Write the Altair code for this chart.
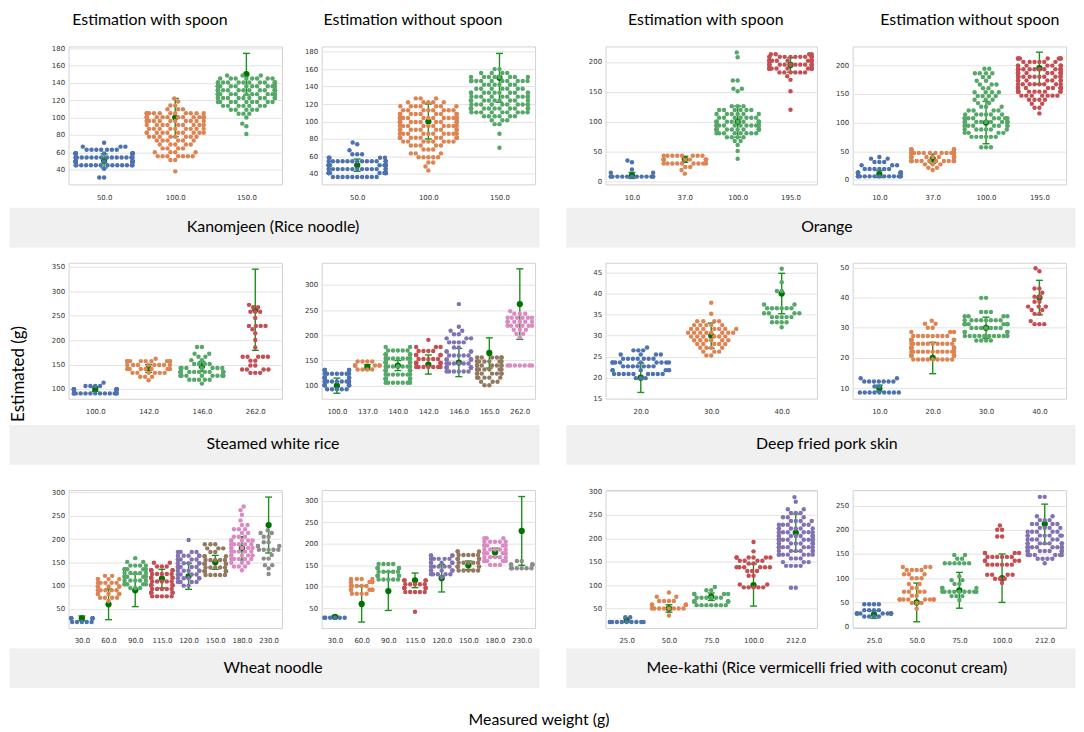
import json
import math
import altair as alt
import pandas as pd

FONT = "Lato"
PALETTE = ["#4c72b0", "#dd8452", "#55a868", "#c44e52", "#8172b3", "#937860", "#da8bc3", "#8c8c8c"]
ERR_COLOR = "#1f8f1f"
DOT_COLOR = "#007300"
DOT_D = 4.9

# ---------------- Data: (estimated value, number of dots at that value) ----------------
# Kanomjeen (Rice noodle) - with spoon
KAN_W_CATS = ["50.0", "100.0", "150.0"]
KAN_W_ROWS = [
    [(31, 2), (41, 1), (45, 14), (49.5, 15), (54, 15), (58.5, 13), (63, 7), (66.5, 3), (71, 1)],
    [(38, 1), (51, 2), (55.5, 7), (60, 4), (64.5, 4), (69, 5), (73.5, 6), (78, 8), (82.5, 10), (87, 9),
     (91.5, 9), (96, 11), (100.5, 14), (105, 12), (109.5, 3), (114, 2), (118.5, 1), (122, 1)],
    [(81, 1), (90, 1), (93, 1), (100, 1), (104.5, 3), (109, 5), (113.5, 7), (118, 9), (122.5, 12),
     (127, 14), (131.5, 15), (136, 15), (140.5, 12), (145, 8), (148.5, 3)],
]
KAN_W_ERR = [8, 22, 24]
KAN_W_Y = ([23, 182], [40, 60, 80, 100, 120, 140, 160, 180])

# Kanomjeen - without spoon
KAN_N_CATS = ["50.0", "100.0", "150.0"]
KAN_N_ROWS = [
    [(36.5, 10), (41, 14), (45.5, 14), (50, 14), (54.5, 13), (58.5, 4), (62.5, 3), (67, 1), (74, 1), (76, 1)],
    [(44, 1), (48.5, 1), (53, 2), (59, 5), (63.5, 3), (68, 3), (72.5, 5), (77, 8), (81.5, 11), (86, 10),
     (90.5, 9), (95, 10), (99.5, 14), (104, 14), (108.5, 9), (113, 8), (117.5, 7), (122, 5), (126.5, 3)],
    [(70, 1), (86, 1), (97, 2), (101.5, 3), (106, 6), (110.5, 9), (115, 13), (119.5, 10), (124, 9),
     (128.5, 10), (133, 10), (137.5, 7), (142, 6), (146.5, 10), (151, 8), (155.5, 4), (160, 2)],
]
KAN_N_ERR = [7, 20, 28]
KAN_N_Y = ([28, 186], [40, 60, 80, 100, 120, 140, 160, 180])

# Orange - with spoon
ORA_W_CATS = ["10.0", "37.0", "100.0", "195.0"]
ORA_W_ROWS = [
    [(8, 13), (14.5, 2), (20, 1), (32, 1), (35, 1)],
    [(13, 1), (19, 1), (24, 2), (30, 9), (36.5, 11), (43, 8)],
    [(38, 1), (51, 1), (61, 1), (67.5, 2), (74, 4), (80.5, 8), (87, 12), (93.5, 12), (100, 10), (106.5, 7),
     (113, 6), (119.5, 6), (126, 3), (151, 1), (155, 2), (169, 2), (208, 1), (216, 1)],
    [(120, 1), (151, 1), (170, 1), (176, 1), (182.5, 6), (189, 12), (195.5, 12), (202, 12), (208.5, 11), (213, 4)],
]
ORA_W_ERR = [5, 5, 26, 12]
ORA_W_Y = ([-5, 226], [0, 50, 100, 150, 200])

# Orange - without spoon
ORA_N_CATS = ["10.0", "37.0", "100.0", "195.0"]
ORA_N_ROWS = [
    [(6, 13), (12.5, 12), (19, 6), (25.5, 3), (31, 3), (37, 2), (40, 1)],
    [(17, 1), (21, 2), (27, 3), (33, 13), (40, 13), (47, 13), (53, 8)],
    [(57, 3), (75, 6), (82, 4), (88, 6), (94.5, 8), (101, 11), (107.5, 8), (114, 6), (121, 4), (127.5, 3),
     (134, 2), (140, 3), (146.5, 4), (153, 4), (160, 2), (166.5, 3), (173, 2), (179.5, 2), (186, 4), (194, 2)],
    [(116, 1), (126, 2), (133, 2), (140, 4), (147, 7), (154, 9), (160.5, 12), (167, 8), (173.5, 7), (180, 11),
     (186.5, 13), (193, 12), (199.5, 8), (206, 6), (212, 7)],
]
ORA_N_ERR = [6, 8, 37, 28]
ORA_N_Y = ([-8, 233], [0, 50, 100, 150, 200])

# Steamed white rice - with spoon
RICE_W_CATS = ["100.0", "142.0", "146.0", "262.0"]
RICE_W_ROWS = [
    [(91, 13), (99, 12), (106, 4), (113, 1)],
    [(118, 1), (125, 3), (133, 6), (141, 7), (149, 8), (157, 9), (162, 1)],
    [(111, 1), (119, 5), (127, 10), (135, 12), (143, 7), (151, 4), (159, 2), (166, 2), (172, 2), (186, 2)],
    [(133, 3), (140, 4), (148, 2), (158, 2), (166, 5), (185, 1), (200, 1), (214, 1), (222, 1), (229, 4),
     (245, 1), (258, 3), (267, 2), (272, 1)],
]
RICE_W_ERR = [5, 8, 10, 83]
RICE_W_Y = ([80, 358], [100, 150, 200, 250, 300, 350])

# Steamed white rice - without spoon
RICE_N_CATS = ["100.0", "137.0", "140.0", "142.0", "146.0", "165.0", "262.0"]
RICE_N_ROWS = [
    [(93, 5), (100.7, 7), (108.4, 7), (116, 7), (123.8, 7), (131, 5)],
    [(132, 4), (140, 6), (148, 4)],
    [(106, 7), (114, 7), (122, 7), (130, 7), (138, 7), (146, 7), (154, 7), (162, 6), (170, 5), (177, 2)],
    [(137, 7), (145, 7), (153, 5), (161, 4), (169, 4), (177, 3), (191, 1)],
    [(128, 6), (136, 7), (144, 6), (152, 5), (160, 5), (168, 4), (176, 2), (186, 4), (194, 3), (202, 2),
     (209, 2), (217, 1), (262, 1)],
    [(101, 2), (108, 3), (116, 5), (124, 7), (132, 7), (140, 7), (148, 7), (156, 6)],
    [(140, 7), (196, 1), (203, 2), (211, 3), (219, 6), (227, 6), (235, 6), (243, 3), (248, 1)],
]
RICE_N_ERR = [15, 5, 10, 19, 28, 30, 70]
RICE_N_Y = ([74, 344], [100, 150, 200, 250, 300])

# Deep fried pork skin - with spoon
PORK_W_CATS = ["20.0", "30.0", "40.0"]
PORK_W_ROWS = [
    [(19.9, 3), (20.9, 9), (21.8, 6), (22.7, 7), (23.6, 9), (24.5, 7), (25.5, 4), (26.5, 3), (27.2, 1)],
    [(25.3, 2), (26.2, 3), (27.1, 4), (28.0, 5), (28.9, 6), (29.8, 6), (30.7, 8), (31.6, 7), (32.5, 5),
     (33.4, 4), (35.2, 1), (37.8, 1)],
    [(32.0, 1), (33.2, 4), (34.4, 5), (35.3, 4), (36.5, 6), (37.4, 2), (40.6, 2), (42.7, 1), (45.9, 1)],
]
PORK_W_ERR = [3.5, 3, 4.8]
PORK_W_Y = ([15, 47.3], [15, 20, 25, 30, 35, 40, 45])

# Deep fried pork skin - without spoon
PORK_N_CATS = ["10.0", "20.0", "30.0", "40.0"]
PORK_N_ROWS = [
    [(8.6, 9), (10.6, 2), (12.2, 7), (13.3, 2)],
    [(19.5, 9), (20.8, 10), (22.1, 11), (23.4, 10), (24.7, 10), (26.0, 9), (27.3, 8), (28.6, 3), (30.0, 2),
     (31.3, 2), (32.3, 1)],
    [(25.8, 4), (27.3, 10), (28.6, 4), (29.9, 7), (31.2, 8), (32.5, 8), (33.8, 4), (35.2, 3), (39.9, 2)],
    [(31.2, 3), (32.2, 1), (34.6, 2), (35.9, 2), (37.0, 3), (38.6, 2), (40.3, 2), (41.6, 1), (43.0, 2),
     (48.7, 1), (49.7, 1)],
]
PORK_N_ERR = [1, 5.2, 3.5, 5.7]
PORK_N_Y = ([6.5, 51.5], [10, 20, 30, 40, 50])

# Wheat noodle - with spoon
WHEAT_W_CATS = ["30.0", "60.0", "90.0", "115.0", "120.0", "150.0", "180.0", "230.0"]
WHEAT_W_ROWS = [
    [(22, 5), (30, 6)],
    [(67, 1), (74, 4), (82, 5), (90, 5), (98, 5), (106, 5), (114, 4), (121, 2)],
    [(95, 3), (103, 5), (111, 5), (119, 5), (127, 5), (135, 5), (143, 4), (151, 2), (159, 1)],
    [(77, 5), (85, 5), (93, 5), (101, 5), (109, 5), (117, 5), (125, 5), (133, 5), (141, 3), (149, 2)],
    [(100, 2), (108, 4), (116, 5), (124, 5), (132, 5), (140, 5), (148, 5), (156, 5), (164, 5), (172, 4), (198, 1)],
    [(123, 5), (131, 5), (139, 5), (147, 5), (155, 5), (163, 3), (172, 2), (180, 3), (189, 3)],
    [(133, 1), (141, 3), (149, 3), (157, 5), (165, 5), (173, 5), (181, 5), (189, 5), (197, 5), (205, 3),
     (213, 2), (221, 3), (230, 2), (240, 1), (252, 1), (262, 1), (270, 1)],
    [(125, 1), (137, 1), (144, 2), (158, 2), (166, 1), (177, 5), (185, 3), (193, 2), (205, 2), (213, 2), (219, 1)],
]
WHEAT_W_ERR = [5, 33, 35, 20, 28, 15, 25, 60]
WHEAT_W_Y = ([9, 305], [50, 100, 150, 200, 250, 300])

# Wheat noodle - without spoon
WHEAT_N_CATS = ["30.0", "60.0", "90.0", "115.0", "120.0", "150.0", "180.0", "230.0"]
WHEAT_N_ROWS = [
    [(28, 6)],
    [(84, 4), (93, 5), (102, 5), (111, 5), (118, 4)],
    [(117, 5), (126, 5), (135, 5), (144, 5), (153, 4)],
    [(42, 1), (88, 5), (97, 5), (106, 5), (115, 5)],
    [(122, 1), (129, 5), (138, 5), (147, 5), (156, 5), (165, 5), (173, 4)],
    [(138, 5), (147, 5), (156, 5), (165, 5), (174, 5), (182, 3)],
    [(151, 3), (160, 5), (169, 5), (178, 5), (187, 5), (196, 5), (205, 5), (213, 3)],
    [(143, 6), (152, 5), (160, 2)],
]
WHEAT_N_ERR = [3, 42, 45, 17, 32, 10, 10, 80]
WHEAT_N_Y = ([4, 325], [50, 100, 150, 200, 250, 300])

# Mee-kathi - with spoon
MEE_W_CATS = ["25.0", "50.0", "75.0", "100.0", "212.0"]
MEE_W_ROWS = [
    [(21, 9), (31, 2)],
    [(35, 1), (50, 8), (58, 6), (66, 4), (75, 2), (84, 1)],
    [(57, 7), (65, 9), (73, 6), (81, 4), (89, 2), (96, 1)],
    [(95, 5), (101, 2), (120, 2), (130, 3), (138, 6), (146, 2), (152, 4), (159, 6), (172, 1), (192, 1)],
    [(94, 2), (141, 4), (149, 3), (157, 3), (165, 7), (173, 6), (181, 7), (189, 8), (197, 9), (205, 8),
     (213, 6), (221, 6), (229, 5), (237, 4), (245, 3), (254, 3), (262, 2), (278, 1), (288, 1)],
]
MEE_W_ERR = [5, 8, 8, 45, 40]
MEE_W_Y = ([8, 303], [50, 100, 150, 200, 250, 300])

# Mee-kathi - without spoon
MEE_N_CATS = ["25.0", "50.0", "75.0", "100.0", "212.0"]
MEE_N_ROWS = [
    [(21, 4), (27, 9), (34, 4), (46, 4)],
    [(37, 1), (49, 3), (56, 8), (64, 2), (72, 4), (80, 2), (88, 2), (100, 3), (108, 3), (117, 4), (123, 3)],
    [(55, 1), (63, 3), (72, 9), (80, 3), (88, 2), (96, 2), (104, 1), (131, 6), (140, 2), (148, 2)],
    [(90, 1), (99, 3), (107, 4), (128, 6), (136, 4), (144, 6), (152, 4), (186, 2), (200, 2), (209, 1)],
    [(131, 1), (140, 4), (148, 6), (156, 9), (164, 9), (172, 7), (180, 5), (188, 7), (196, 5), (204, 4),
     (212, 4), (220, 3), (228, 2), (268, 2)],
]
MEE_N_ERR = [8, 40, 37, 50, 41]
MEE_N_Y = ([-3, 282], [0, 50, 100, 150, 200, 250])

FOOD_LABELS = ["Kanomjeen (Rice noodle)", "Orange", "Steamed white rice", "Deep fried pork skin",
               "Wheat noodle", "Mee-kathi (Rice vermicelli fried with coconut cream)"]
COL_TITLES = ["Estimation with spoon", "Estimation without spoon",
              "Estimation with spoon", "Estimation without spoon"]
COL_TITLE_X = [142, 407, 702, 968]   # title centres (px from the left edge of the figure)


def swarm(ys, d, half):
    order = sorted(range(len(ys)), key=lambda k: ys[k])
    placed = []
    xs = [0.0] * len(ys)
    for k in order:
        y = ys[k]
        near = [(px, py) for px, py in placed if abs(py - y) < d]
        cands = [0.0]
        for px, py in near:
            dx = math.sqrt(max(d * d - (py - y) ** 2, 0.0))
            cands.append(px - dx)
            cands.append(px + dx)
        cands.sort(key=lambda c: (round(abs(c), 6), c))
        x = cands[-1]
        for c in cands:
            if all((c - px) ** 2 + (y - py) ** 2 >= d * d - 1e-6 for px, py in near):
                x = c
                break
        placed.append((x, y))
        xs[k] = x
    return [max(-half, min(half, x)) for x in xs]


def make_panel(cats, rows, errs, yspec, width, height):
    domain, ticks = yspec
    n = len(cats)
    band = width / n
    half = 0.4 * band
    pxu = height / (domain[1] - domain[0])
    capw = 3.5 / band
    pts, bars, caps, dots = [], [], [], []
    for i, (cat, grp, err) in enumerate(zip(cats, rows, errs)):
        vals = [v for v, c in grp for _ in range(c)]
        offs = swarm([v * pxu for v in vals], DOT_D, half)
        for v, o in zip(vals, offs):
            pts.append({"x": i + o / band, "y": v, "c": PALETTE[i]})
        m = float(cat)
        bars.append({"x": i, "y": m - err, "y2": m + err})
        caps.append({"x": i - capw, "x2": i + capw, "y": m - err})
        caps.append({"x": i - capw, "x2": i + capw, "y": m + err})
        dots.append({"x": i, "y": m})

    xenc = alt.X("x:Q",
                 scale=alt.Scale(domain=[-0.5, n - 0.5], nice=False, zero=False),
                 axis=alt.Axis(values=list(range(n)), labelExpr=json.dumps(cats) + "[datum.value]",
                               grid=False, ticks=False, domain=False, labelPadding=9,
                               labelFlush=False, labelOverlap=False, title=None))
    yenc = alt.Y("y:Q",
                 scale=alt.Scale(domain=domain, nice=False, zero=False),
                 axis=alt.Axis(values=ticks, grid=True, ticks=False, domain=False, labelPadding=4,
                               labelFlush=False, labelOverlap=False, title=None))
    bar = alt.Chart(pd.DataFrame(bars)).mark_rule(color=ERR_COLOR, strokeWidth=1.4).encode(
        x=xenc, y=yenc, y2="y2:Q")
    cap = alt.Chart(pd.DataFrame(caps)).mark_rule(color=ERR_COLOR, strokeWidth=1.4).encode(
        x=xenc, x2="x2:Q", y=yenc)
    dot = alt.Chart(pd.DataFrame(dots)).mark_circle(color=DOT_COLOR, size=40, opacity=1).encode(
        x=xenc, y=yenc)
    pt = alt.Chart(pd.DataFrame(pts)).mark_circle(size=20, opacity=1).encode(
        x=xenc, y=yenc, color=alt.Color("c:N", scale=None))
    return alt.layer(bar, cap, dot, pt).properties(width=width, height=height)


def spacer(w, h, text="", tx=10, ty=0):
    # invisible anchor above the top edge keeps every row's bounds identical
    anchor = alt.Chart(pd.DataFrame({"t": [""]})).mark_text(fontSize=1).encode(
        text="t:N", x=alt.value(w / 2), y=alt.value(-6))
    layers = [anchor]
    if text:
        layers.append(alt.Chart(pd.DataFrame({"t": [text]})).mark_text(
            angle=270, font=FONT, fontSize=17, color="black").encode(
            text="t:N", x=alt.value(tx), y=alt.value(ty)))
    return alt.layer(*layers).properties(width=w, height=h,
                                          view=alt.ViewBackground(stroke="transparent"))


def box(label, w, tx):
    df = pd.DataFrame({"t": [label]})
    return alt.Chart(df).mark_text(font=FONT, fontSize=16, color="black").encode(
        text="t:N", x=alt.value(tx), y=alt.value(20)
    ).properties(width=w, height=40, view=alt.ViewBackground(fill="#f0f0f0", stroke="transparent"))


def pair(left_sp, pa, pb, gap_inner, label, box_w, box_tx):
    top = alt.hconcat(left_sp, pa, pb, spacing=gap_inner, bounds="flush")
    return alt.vconcat(top, box(label, box_w, box_tx), spacing=0)


def title_row(width):
    layers = [
        alt.Chart(pd.DataFrame({"t": [t]})).mark_text(font=FONT, fontSize=16, color="black").encode(
            text="t:N", x=alt.value(x), y=alt.value(8))
        for t, x in zip(COL_TITLES, COL_TITLE_X)
    ]
    return alt.layer(*layers).properties(width=width, height=16,
                                          view=alt.ViewBackground(stroke="transparent"))


H1, H2, H3 = 139, 137, 139
G1, G2, G3 = 21, 24, 18  # spacer extends below the plots down to the grey label box

a1 = make_panel(KAN_W_CATS, KAN_W_ROWS, KAN_W_ERR, KAN_W_Y, 215, H1)
a2 = make_panel(KAN_N_CATS, KAN_N_ROWS, KAN_N_ERR, KAN_N_Y, 215, H1)
a3 = make_panel(ORA_W_CATS, ORA_W_ROWS, ORA_W_ERR, ORA_W_Y, 213, H1)
a4 = make_panel(ORA_N_CATS, ORA_N_ROWS, ORA_N_ERR, ORA_N_Y, 215, H1)

b1 = make_panel(RICE_W_CATS, RICE_W_ROWS, RICE_W_ERR, RICE_W_Y, 215, H2)
b2 = make_panel(RICE_N_CATS, RICE_N_ROWS, RICE_N_ERR, RICE_N_Y, 215, H2)
b3 = make_panel(PORK_W_CATS, PORK_W_ROWS, PORK_W_ERR, PORK_W_Y, 213, H2)
b4 = make_panel(PORK_N_CATS, PORK_N_ROWS, PORK_N_ERR, PORK_N_Y, 215, H2)

c1 = make_panel(WHEAT_W_CATS, WHEAT_W_ROWS, WHEAT_W_ERR, WHEAT_W_Y, 215, H3)
c2 = make_panel(WHEAT_N_CATS, WHEAT_N_ROWS, WHEAT_N_ERR, WHEAT_N_Y, 215, H3)
c3 = make_panel(MEE_W_CATS, MEE_W_ROWS, MEE_W_ERR, MEE_W_Y, 213, H3)
c4 = make_panel(MEE_N_CATS, MEE_N_ROWS, MEE_N_ERR, MEE_N_Y, 215, H3)

row1 = alt.hconcat(
    pair(spacer(20, H1 + G1), a1, a2, 40, FOOD_LABELS[0], 534, 266),
    pair(spacer(4, H1 + G1), a3, a4, 36, FOOD_LABELS[1], 513, 263),
    spacing=25)
row2 = alt.hconcat(
    pair(spacer(20, H2 + G2, "Estimated (g)", 10, 112), b1, b2, 40, FOOD_LABELS[2], 534, 266),
    pair(spacer(4, H2 + G2), b3, b4, 36, FOOD_LABELS[3], 513, 263),
    spacing=25)
row3 = alt.hconcat(
    pair(spacer(20, H3 + G3), c1, c2, 40, FOOD_LABELS[4], 534, 266),
    pair(spacer(4, H3 + G3), c3, c4, 36, FOOD_LABELS[5], 513, 263),
    spacing=25)

chart = alt.vconcat(
    title_row(1072),
    alt.vconcat(row1, alt.vconcat(row2, row3, spacing=17), spacing=7),
    spacing=10,
).properties(
    padding=0,
    title=alt.TitleParams("Measured weight (g)", orient="bottom", anchor="middle", font=FONT,
                          fontSize=16, fontWeight="normal", color="black", offset=24, dx=-3),
).configure_view(
    stroke="#d2d2d2", strokeWidth=1
).configure_axis(
    labelFont="DejaVu Sans", labelFontSize=7, labelColor="#333333", gridColor="#e3e3e3", gridWidth=1
)

chart.save("out.html", embed_options={"renderer": "svg", "actions": False})
